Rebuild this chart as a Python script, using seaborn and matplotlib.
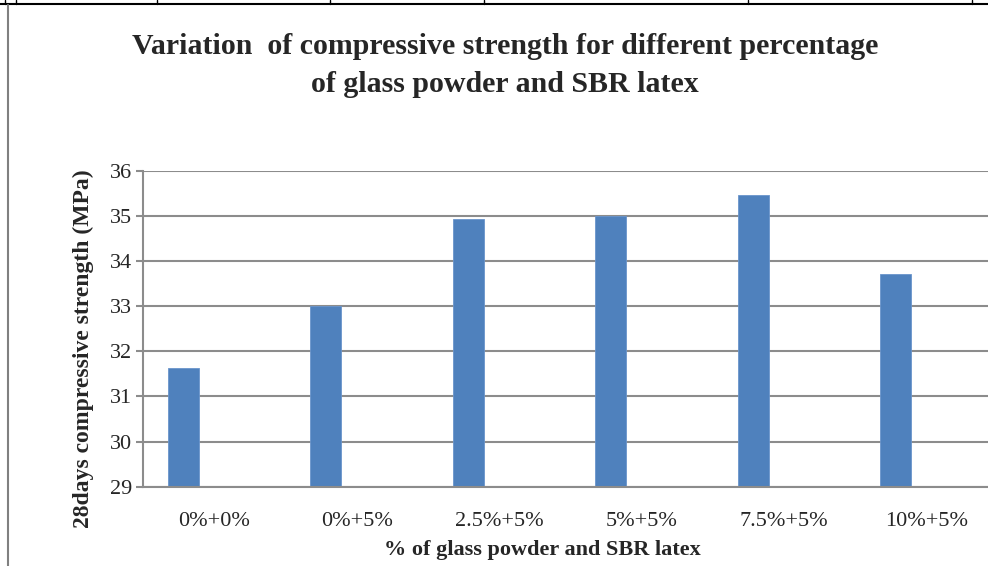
import pandas as pd
import seaborn as sns
from matplotlib import pyplot as plt
from matplotlib.lines import Line2D

categories = ["0%+0%", "0%+5%", "2.5%+5%", "5%+5%", "7.5%+5%", "10%+5%"]
strength = [31.63, 33.0, 34.93, 35.0, 35.46, 33.71]
series_order = ["Series1", "Series2", "Series3"]

df = pd.DataFrame({"mix": categories, "strength": strength, "series": "Series1"})

sns.set_style("white")
plt.rcParams["font.family"] = ["Liberation Serif", "DejaVu Serif"]

fig = plt.figure(figsize=(9.88, 5.66), dpi=100)
ax = fig.add_axes([143 / 988, 1 - 486.7 / 566, 855 / 988, 316 / 566])

# two empty series in the original sheet, so the bar sits left of centre
sns.barplot(
    ax=ax,
    data=df,
    x="mix",
    y="strength",
    hue="series",
    hue_order=series_order,
    palette={"Series1": "#4F81BD", "Series2": "#C0504D", "Series3": "#9BBB59"},
    dodge=True,
    width=0.653,
    saturation=1,
    edgecolor="#6a95cc",
    linewidth=0.6,
    legend=False,
)

ax.set_xlim(-0.5, len(categories) - 0.5)
ax.set_ylim(29, 36)
ax.set_yticks(range(29, 37))
ax.yaxis.grid(True, color="#8c8c8c", lw=1.5)
ax.set_axisbelow(True)
for side in ["top", "right"]:
    ax.spines[side].set_visible(False)
for side in ["left", "bottom"]:
    ax.spines[side].set_color("#8c8c8c")
    ax.spines[side].set_linewidth(1.5)
ax.tick_params(axis="y", length=5, width=1.5, color="#8c8c8c", labelsize=16, pad=3, left=True)
ax.tick_params(axis="x", length=0, labelsize=16, pad=18)

ax.set_xlabel("% of glass powder and SBR latex", fontsize=16, fontweight="bold")
ax.xaxis.set_label_coords((542 - 143) / 855, -(540 - 486.7) / 316)
ax.set_ylabel("28days compressive strength (MPa)", fontsize=17, fontweight="bold")
ax.yaxis.set_label_coords(-(143 - 94) / 855, (486.7 - 349) / 316)

fig.text(0.511, 1 - 47 / 566, "Variation  of compressive strength for different percentage",
         ha="center", va="center", fontsize=21.5, fontweight="bold")
fig.text(0.511, 1 - 85 / 566, "of glass powder and SBR latex",
         ha="center", va="center", fontsize=21.5, fontweight="bold")

# page table rule and chart frame
fig.add_artist(Line2D([0, 1], [1 - 3.5 / 566] * 2, color="black", lw=1.5))
for xv in [5, 15.5, 157, 330, 484, 748, 972]:
    fig.add_artist(Line2D([xv / 988] * 2, [1, 1 - 3.5 / 566], color="black", lw=1))
fig.add_artist(Line2D([8 / 988] * 2, [0, 1 - 5 / 566], color="#808080", lw=1.5))

fig.savefig("out.png", dpi=100)
